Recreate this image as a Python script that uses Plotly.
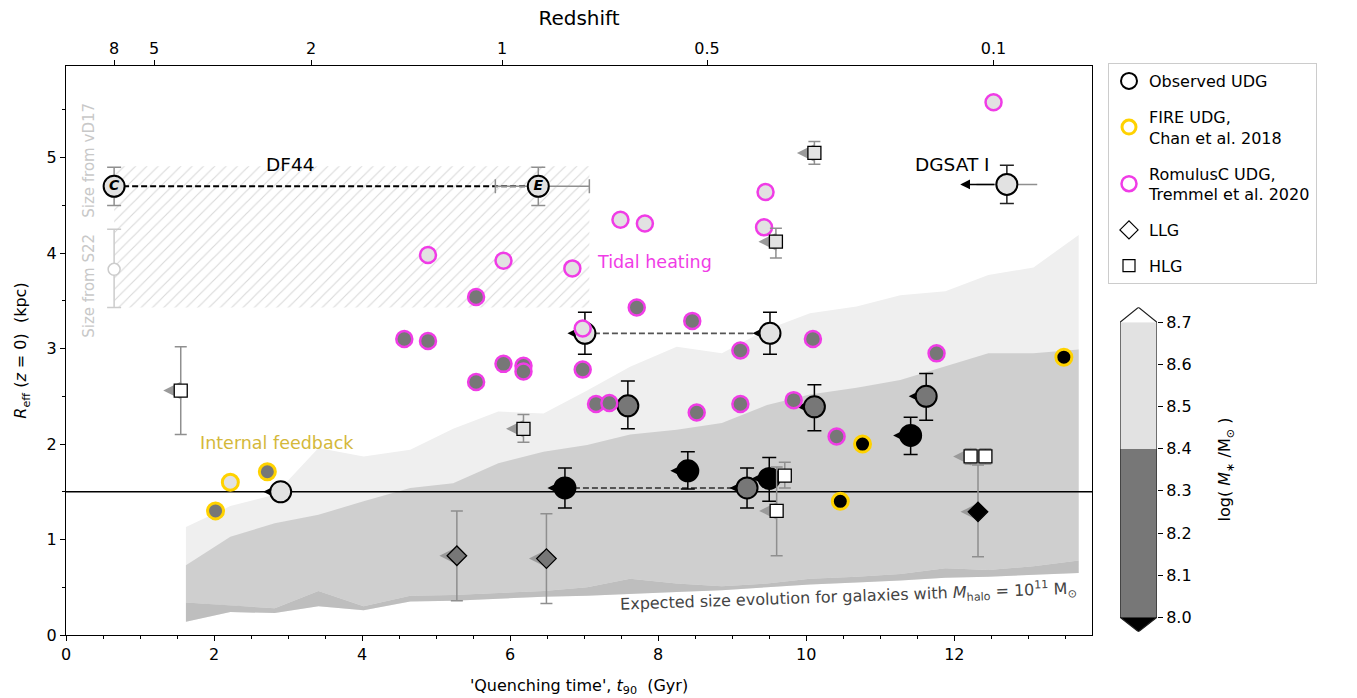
import plotly.graph_objects as go

# ---------------- axis data ----------------
x_range = [0.0, 13.86]
y_range = [0.0, 5.96]
x_ticks = [0, 2, 4, 6, 8, 10, 12]
y_ticks = [0, 1, 2, 3, 4, 5]
z_tick_labels = ['8', '5', '2', '1', '0.5', '0.1']
z_tick_ages = [0.65, 1.19, 3.31, 5.89, 8.66, 12.53]
reference_size = 1.5

# ---------------- expected size evolution (M_halo = 1e11) ----------------
band_t = [1.62, 2.22, 2.82, 3.41, 4.02, 4.65, 5.23, 5.84, 6.45, 7.04, 7.62,
          8.25, 8.86, 9.47, 10.05, 10.68, 11.27, 11.88, 12.46, 13.07, 13.68]
band_outer_hi = [1.13, 1.35, 1.47, 1.96, 1.87, 1.94, 2.16, 2.34, 2.32, 2.56, 2.81,
                 3.02, 2.95, 3.20, 3.37, 3.44, 3.56, 3.60, 3.77, 3.85, 4.19]
band_mid_hi = [0.73, 1.03, 1.17, 1.26, 1.40, 1.54, 1.59, 1.80, 1.92, 1.99, 2.10,
               2.15, 2.22, 2.41, 2.52, 2.59, 2.67, 2.81, 2.95, 2.95, 2.99]
band_low_hi = [0.34, 0.31, 0.28, 0.46, 0.30, 0.41, 0.42, 0.44, 0.46, 0.50, 0.59,
               0.54, 0.51, 0.54, 0.59, 0.61, 0.64, 0.70, 0.68, 0.72, 0.78]
band_lo = [0.14, 0.24, 0.23, 0.30, 0.26, 0.35, 0.36, 0.38, 0.40, 0.41, 0.43,
           0.45, 0.47, 0.50, 0.53, 0.55, 0.57, 0.60, 0.61, 0.63, 0.65]

# ---------------- colour bins (log M*/Msun) ----------------
cb_edges = [8.0, 8.4, 8.7]
cb_colors = ['#777777', '#e2e2e2']
cb_under = '#000000'
cb_over = '#ffffff'
cb_ticks = [8.0, 8.1, 8.2, 8.3, 8.4, 8.5, 8.6, 8.7]
cb_range = [7.9658, 8.7356]

# ---------------- observed UDGs ----------------
obs_t = [2.90, 7.01, 9.51, 7.59, 10.11, 11.62, 11.41, 8.40, 9.50, 9.20, 6.74]
obs_r = [1.50, 3.16, 3.16, 2.40, 2.39, 2.50, 2.09, 1.72, 1.64, 1.54, 1.54]
obs_err_hi = [0.0, 0.22, 0.22, 0.26, 0.23, 0.24, 0.19, 0.20, 0.22, 0.21, 0.21]
obs_err_lo = [0.0, 0.22, 0.22, 0.24, 0.25, 0.25, 0.20, 0.19, 0.24, 0.21, 0.21]
obs_logm = [8.55, 8.55, 8.55, 8.2, 8.2, 8.2, 7.9, 7.9, 7.9, 8.2, 7.9]
obs_uplim = [True, True, True, False, True, True, True, True, True, True, True]
obs_pairs = [(1, 2), (10, 9)]

# DF44 (two t90 estimates)
df44_t = [0.65, 6.38]
df44_r = [4.70, 4.70]
df44_err = [0.20, 0.20]
df44_xerr_lo = [0.0, 0.58]
df44_xerr_hi = [0.0, 0.69]
df44_labels = ['C', 'E']
df44_logm = [8.55, 8.55]
df44_t_range = [0.65, 7.07]
df44_size_range = [3.43, 4.91]
s22_t = [0.65]
s22_r = [3.83]
s22_err_hi = [0.42]
s22_err_lo = [0.40]

# DGSAT I
dgsat_t = [12.71]
dgsat_r = [4.72]
dgsat_err = [0.20]
dgsat_xerr = [0.41]
dgsat_t_limit = 12.08
dgsat_logm = [8.55]

# ---------------- FIRE UDGs (Chan et al. 2018) ----------------
fire_t = [2.02, 2.22, 2.72, 10.76, 10.46, 13.48]
fire_r = [1.30, 1.60, 1.71, 2.00, 1.40, 2.91]
fire_logm = [8.2, 8.55, 8.2, 7.9, 7.9, 7.9]

# ---------------- RomulusC UDGs (Tremmel et al. 2020) ----------------
rom_t = [4.89, 5.91, 6.84, 6.98, 7.49, 7.82, 9.45, 9.43, 12.53,
         4.57, 4.89, 5.54, 5.54, 5.91, 6.18, 6.18, 6.98, 7.16, 7.34,
         7.71, 8.46, 8.52, 9.11, 9.11, 9.83, 10.09, 10.41, 11.76]
rom_r = [3.98, 3.92, 3.84, 3.21, 4.35, 4.31, 4.64, 4.27, 5.58,
         3.10, 3.08, 3.54, 2.65, 2.84, 2.82, 2.76, 2.78, 2.42, 2.43,
         3.43, 3.29, 2.33, 2.98, 2.42, 2.46, 3.10, 2.08, 2.95]
rom_logm = [8.55] * 9 + [8.2] * 19

# ---------------- LLG / HLG ----------------
llg_t = [5.28, 6.49, 12.32]
llg_r = [0.83, 0.80, 1.29]
llg_err_hi = [0.47, 0.47, 0.49]
llg_err_lo = [0.47, 0.47, 0.47]
llg_logm = [8.2, 8.2, 7.9]
llg_uplim = [True, True, True]

hlg_t = [1.55, 6.18, 9.59, 10.11, 9.71, 9.60, 12.22, 12.42]
hlg_r = [2.56, 2.16, 4.12, 5.05, 1.67, 1.30, 1.87, 1.87]
hlg_err_hi = [0.46, 0.15, 0.14, 0.12, 0.14, 0.46, 0.08, 0.08]
hlg_err_lo = [0.46, 0.14, 0.17, 0.12, 0.13, 0.47, 0.08, 0.08]
hlg_logm = [8.8, 8.55, 8.55, 8.55, 8.8, 8.8, 8.8, 8.8]
hlg_uplim = [True, True, True, True, False, True, True, False]

# ---------------- styles ----------------
FONT = 'DejaVu Sans'
MAGENTA = '#f03ce6'
GOLD = '#ffd200'
GOLD_TEXT = '#d4b83a'
ERR_GRAY = '#8f8f8f'
CARET_GRAY = '#9a9a9a'


def mass_color(m):
    if m < cb_edges[0]:
        return cb_under
    for lo, hi, c in zip(cb_edges[:-1], cb_edges[1:], cb_colors):
        if lo <= m < hi:
            return c
    if m == cb_edges[-1]:
        return cb_colors[-1]
    return cb_over


def sel(vals, flags):
    return [v for v, f in zip(vals, flags) if f]


def caret(xs, ys, color):
    return go.Scatter(x=xs, y=ys, mode='markers', showlegend=False, hoverinfo='skip',
                      marker=dict(symbol='arrow-down', angle=90, standoff=17.5, size=18,
                                  color=color, line=dict(width=0)))


W, H = 1357, 698
ML, MT, MB, MR = 66, 66, 63, 0
PW = W - ML - MR
PH = H - MT - MB
x_dom_end = (1092 - ML) / PW
cb_x_dom = [(1120 - ML) / PW, (1157 - ML) / PW]
cb_y_dom = [(H - MB - 631.7) / PH, (H - MB - 307.3) / PH]

fig = go.Figure()


def band(upper, lower, color):
    return go.Scatter(x=band_t + band_t[::-1], y=upper + lower[::-1], fill='toself',
                      fillcolor=color, line=dict(width=0), mode='lines',
                      showlegend=False, hoverinfo='skip')


fig.add_trace(band(band_outer_hi, band_lo, '#efefef'))
fig.add_trace(band(band_mid_hi, band_low_hi, '#cfcfcf'))
fig.add_trace(band(band_low_hi, band_lo, '#bebebe'))

# hatched DF44 region
t0, t1 = df44_t_range
r0, r1 = df44_size_range
fig.add_trace(go.Scatter(x=[t0, t1, t1, t0, t0], y=[r0, r0, r1, r1, r0], mode='lines',
                         fill='toself', fillcolor='rgba(0,0,0,0)', line=dict(width=0),
                         fillpattern=dict(shape='/', fgcolor='#d9d9d9',
                                          bgcolor='rgba(255,255,255,0)', size=8, solidity=0.14),
                         showlegend=False, hoverinfo='skip'))

# reference line
fig.add_trace(go.Scatter(x=x_range, y=[reference_size] * 2, mode='lines',
                         line=dict(color='black', width=1.6), showlegend=False, hoverinfo='skip'))

# dashed links
fig.add_trace(go.Scatter(x=df44_t, y=df44_r, mode='lines',
                         line=dict(color='black', width=2, dash='6px,3px'),
                         showlegend=False, hoverinfo='skip'))
for i, j in obs_pairs:
    fig.add_trace(go.Scatter(x=[obs_t[i], obs_t[j]], y=[obs_r[i], obs_r[j]], mode='lines',
                             line=dict(color='#555555', width=1.8, dash='6px,3px'),
                             showlegend=False, hoverinfo='skip'))

# S22 size of DF44
fig.add_trace(go.Scatter(x=s22_t, y=s22_r, mode='markers', showlegend=False, hoverinfo='skip',
                         marker=dict(symbol='circle', size=12, color='white',
                                     line=dict(color='#cccccc', width=1.5)),
                         error_y=dict(type='data', array=s22_err_hi, arrayminus=s22_err_lo,
                                      color='#cccccc', thickness=1.5, width=7)))

# DF44 C / E
fig.add_trace(go.Scatter(x=df44_t, y=df44_r, mode='markers+text', showlegend=False,
                         hoverinfo='skip',
                         text=['<b><i>%s</i></b>' % s for s in df44_labels],
                         textposition='middle center',
                         textfont=dict(family=FONT, size=14, color='black'),
                         marker=dict(symbol='circle', size=21,
                                     color=[mass_color(m) for m in df44_logm],
                                     line=dict(color='black', width=2)),
                         error_y=dict(type='data', array=df44_err, color=ERR_GRAY,
                                      thickness=1.5, width=7),
                         error_x=dict(type='data', array=df44_xerr_hi, arrayminus=df44_xerr_lo,
                                      color=ERR_GRAY, thickness=1.5, width=7)))

# DGSAT I
fig.add_trace(go.Scatter(x=dgsat_t, y=dgsat_r, mode='markers', showlegend=False,
                         hoverinfo='skip',
                         marker=dict(symbol='circle', size=21,
                                     color=[mass_color(m) for m in dgsat_logm],
                                     line=dict(color='black', width=2)),
                         error_y=dict(type='data', array=dgsat_err, color='#222222',
                                      thickness=1.5, width=7),
                         error_x=dict(type='data', array=dgsat_xerr, color=ERR_GRAY,
                                      thickness=1.5, width=0)))

# observed UDGs
fig.add_trace(caret(sel(obs_t, obs_uplim), sel(obs_r, obs_uplim), 'black'))
fig.add_trace(go.Scatter(x=obs_t, y=obs_r, mode='markers', showlegend=False, hoverinfo='skip',
                         marker=dict(symbol='circle', size=21,
                                     color=[mass_color(m) for m in obs_logm],
                                     line=dict(color='black', width=2)),
                         error_y=dict(type='data', array=obs_err_hi, arrayminus=obs_err_lo,
                                      color='black', thickness=1.5, width=7)))

# FIRE
fig.add_trace(go.Scatter(x=fire_t, y=fire_r, mode='markers', showlegend=False, hoverinfo='skip',
                         marker=dict(symbol='circle', size=16,
                                     color=[mass_color(m) for m in fire_logm],
                                     line=dict(color=GOLD, width=3))))

# RomulusC
fig.add_trace(go.Scatter(x=rom_t, y=rom_r, mode='markers', showlegend=False, hoverinfo='skip',
                         marker=dict(symbol='circle', size=16,
                                     color=[mass_color(m) for m in rom_logm],
                                     line=dict(color=MAGENTA, width=2.5))))

# LLG
fig.add_trace(caret(sel(llg_t, llg_uplim), sel(llg_r, llg_uplim), CARET_GRAY))
fig.add_trace(go.Scatter(x=llg_t, y=llg_r, mode='markers', showlegend=False, hoverinfo='skip',
                         marker=dict(symbol='diamond', size=15,
                                     color=[mass_color(m) for m in llg_logm],
                                     line=dict(color='black', width=1.3)),
                         error_y=dict(type='data', array=llg_err_hi, arrayminus=llg_err_lo,
                                      color=ERR_GRAY, thickness=1.5, width=6)))

# HLG
fig.add_trace(caret(sel(hlg_t, hlg_uplim), sel(hlg_r, hlg_uplim), CARET_GRAY))
fig.add_trace(go.Scatter(x=hlg_t, y=hlg_r, mode='markers', showlegend=False, hoverinfo='skip',
                         marker=dict(symbol='square', size=13,
                                     color=[mass_color(m) for m in hlg_logm],
                                     line=dict(color='black', width=1.3)),
                         error_y=dict(type='data', array=hlg_err_hi, arrayminus=hlg_err_lo,
                                      color=ERR_GRAY, thickness=1.5, width=6)))

# legend entries
legend_items = [
    ('Observed UDG', 'circle', 'black', 2, 16),
    ('FIRE UDG,<br>Chan et al. 2018', 'circle', GOLD, 3, 14),
    ('RomulusC UDG,<br>Tremmel et al. 2020', 'circle', MAGENTA, 2.5, 15),
    ('LLG', 'diamond', 'black', 1.2, 14),
    ('HLG', 'square', 'black', 1.2, 12),
]
for k, (name, sym, col, lw, sz) in enumerate(legend_items):
    fig.add_trace(go.Scatter(x=[None], y=[None], mode='markers', name=name,
                             legendgroup='g%d' % k,
                             marker=dict(symbol=sym, size=sz, color='white',
                                         line=dict(color=col, width=lw))))

# top axis carrier
fig.add_trace(go.Scatter(x=[None], y=[None], xaxis='x2', yaxis='y', showlegend=False,
                         hoverinfo='skip'))

# ---------------- colour bar (drawn on its own axes) ----------------
for lo, hi, c in zip(cb_edges[:-1], cb_edges[1:], cb_colors):
    fig.add_trace(go.Scatter(x=[0, 1, 1, 0, 0], y=[lo, lo, hi, hi, lo], mode='lines',
                             fill='toself', fillcolor=c, line=dict(width=0),
                             xaxis='x3', yaxis='y3', showlegend=False, hoverinfo='skip'))
fig.add_trace(go.Scatter(x=[0, 1, 0.5, 0], y=[cb_edges[-1], cb_edges[-1], cb_range[1], cb_edges[-1]],
                         mode='lines', fill='toself', fillcolor=cb_over, line=dict(width=0),
                         xaxis='x3', yaxis='y3', showlegend=False, hoverinfo='skip'))
fig.add_trace(go.Scatter(x=[0, 1, 0.5, 0], y=[cb_edges[0], cb_edges[0], cb_range[0], cb_edges[0]],
                         mode='lines', fill='toself', fillcolor=cb_under, line=dict(width=0),
                         xaxis='x3', yaxis='y3', showlegend=False, hoverinfo='skip'))
fig.add_trace(go.Scatter(x=[0, 0.5, 1, 1, 0.5, 0, 0],
                         y=[cb_edges[-1], cb_range[1], cb_edges[-1], cb_edges[0], cb_range[0],
                            cb_edges[0], cb_edges[-1]],
                         mode='lines', line=dict(color='#222222', width=1.2),
                         xaxis='x3', yaxis='y3', showlegend=False, hoverinfo='skip'))

# ---------------- annotations ----------------
ann = []
ann.append(dict(x=3.02, y=4.93, text='DF44', showarrow=False, xref='x', yref='y',
                font=dict(family=FONT, size=18.5, color='black')))
ann.append(dict(x=11.97, y=4.93, text='DGSAT I', showarrow=False, xref='x', yref='y',
                font=dict(family=FONT, size=18.5, color='black')))
ann.append(dict(x=dgsat_t_limit, y=dgsat_r[0], ax=dgsat_t[0], ay=dgsat_r[0], xref='x', yref='y',
                axref='x', ayref='y', text='', showarrow=True, arrowhead=2, arrowsize=1.3,
                arrowwidth=1.5, arrowcolor='black', startstandoff=11))
ann.append(dict(x=7.15, y=3.91, text='Tidal heating', showarrow=False, xref='x', yref='y',
                xanchor='left', font=dict(family=FONT, size=17.5, color=MAGENTA)))
ann.append(dict(x=1.78, y=2.01, text='Internal feedback', showarrow=False, xref='x', yref='y',
                xanchor='left', font=dict(family=FONT, size=17.5, color=GOLD_TEXT)))
ann.append(dict(x=10.57, y=0.40, textangle=-2,
                text='Expected size evolution for galaxies with <i>M</i><sub>halo</sub> = 10<sup>11</sup> M<sub>\u2299</sub>',
                showarrow=False, xref='x', yref='y',
                font=dict(family=FONT, size=16, color='#444444')))
ann.append(dict(x=0.30, y=4.97, text='Size from vD17', textangle=-90, showarrow=False,
                xref='x', yref='y', font=dict(family=FONT, size=15, color='#c8c8c8')))
ann.append(dict(x=0.30, y=3.66, text='Size from S22', textangle=-90, showarrow=False,
                xref='x', yref='y', font=dict(family=FONT, size=15, color='#c8c8c8')))

tick_font = dict(family=FONT, size=16, color='black')

fig.update_layout(
    width=W, height=H,
    margin=dict(l=ML, r=MR, t=MT, b=MB, pad=0),
    template='none',
    paper_bgcolor='white', plot_bgcolor='white',
    font=dict(family=FONT, size=16, color='black'),
    hovermode=False,
    annotations=ann,
    xaxis=dict(domain=[0, x_dom_end], range=x_range, tickvals=x_ticks, ticks='outside',
               ticklen=5, tickwidth=1.2, tickcolor='black', showline=True, linecolor='black',
               linewidth=1.2, mirror=True, showgrid=False, zeroline=False, tickfont=tick_font,
               minor=dict(dtick=0.5, tick0=0, ticks='outside', ticklen=3, tickcolor='black',
                          showgrid=False),
               title=dict(text="'Quenching time', <i>t</i><sub>90</sub>\u00a0\u00a0(Gyr)",
                          font=dict(family=FONT, size=16), standoff=16),
               automargin=False),
    xaxis2=dict(overlaying='x', side='top', anchor='y', range=x_range, type='linear',
                tickmode='array', tickvals=z_tick_ages, ticktext=z_tick_labels, ticks='outside',
                ticklen=5, tickwidth=1.2, tickcolor='black', showline=True, linecolor='black',
                linewidth=1.2, showgrid=False, zeroline=False, tickfont=tick_font,
                title=dict(text='Redshift', font=dict(family=FONT, size=20), standoff=7),
                automargin=False),
    yaxis=dict(domain=[0, 1], range=y_range, tickvals=y_ticks, ticks='outside', ticklen=5,
               tickwidth=1.2, tickcolor='black', showline=True, linecolor='black', linewidth=1.2,
               mirror=True, showgrid=False, zeroline=False, tickfont=tick_font,
               minor=dict(dtick=0.5, tick0=0, ticks='outside', ticklen=3, tickcolor='black',
                          showgrid=False),
               title=dict(text='<i>R</i><sub>eff</sub> (<i>z</i> = 0)\u00a0\u00a0(kpc)',
                          font=dict(family=FONT, size=16), standoff=15),
               automargin=False),
    xaxis3=dict(domain=cb_x_dom, range=[0, 1], anchor='y3', visible=False, fixedrange=True),
    yaxis3=dict(domain=cb_y_dom, range=cb_range, anchor='x3', side='right', tickvals=cb_ticks,
                ticktext=['%.1f' % v for v in cb_ticks], ticks='outside', ticklen=5,
                tickwidth=1.2, tickcolor='black', showline=False, showgrid=False, zeroline=False,
                tickfont=tick_font,
                title=dict(text='log( <i>M</i><sub>\u2217</sub> /M<sub>\u2299</sub> )',
                           font=dict(family=FONT, size=16), standoff=28),
                automargin=False),
    legend=dict(x=(1108 - ML) / PW, y=(H - MB - 63) / PH, xanchor='left', yanchor='top',
                bordercolor='#cccccc', borderwidth=1, bgcolor='white',
                font=dict(family=FONT, size=16), traceorder='grouped', tracegroupgap=12,
                itemsizing='trace'),
)

fig.write_html('out.html', config={'displayModeBar': False},
               post_script="document.body.style.margin='0px';")
